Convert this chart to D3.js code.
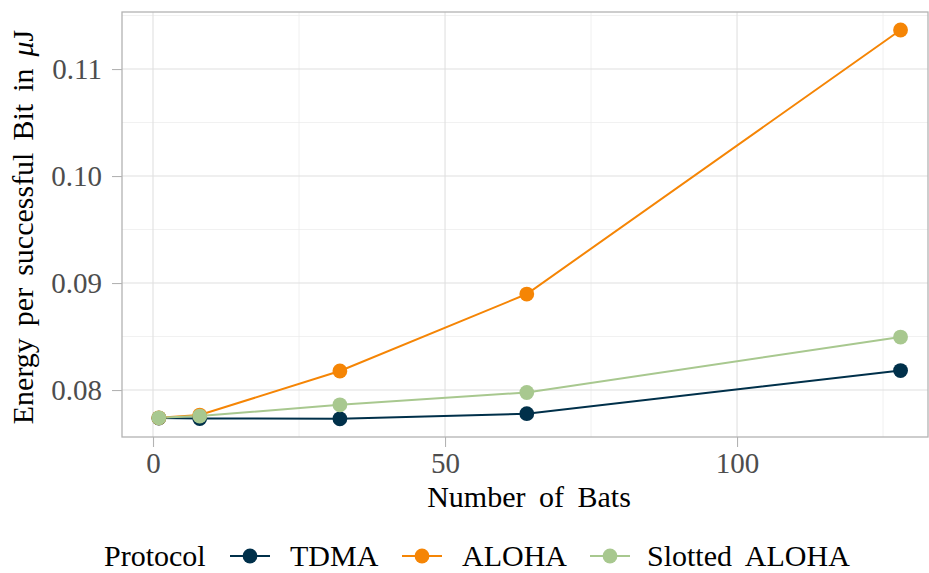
<!DOCTYPE html>
<html><head><meta charset="utf-8">
<script src="https://cdn.jsdelivr.net/npm/d3@7"></script>
<style>body{margin:0;background:#fff}svg{display:block}text{font-family:"Liberation Serif","Times New Roman",serif}</style>
</head><body><svg id="c" width="929" height="573"></svg>
<script>
const bats = [1, 8, 32, 64, 128];
const tdma = [0.07738, 0.07734, 0.07731, 0.07779, 0.08182];
const aloha = [0.07740, 0.07766, 0.08178, 0.08897, 0.11365];
const slotted = [0.07740, 0.07757, 0.07862, 0.07977, 0.08495];
const seriesNames = ["TDMA", "ALOHA", "Slotted ALOHA"];
const xTicks = [0, 50, 100];
const xMinor = [25, 75, 125];
const yTicks = [0.08, 0.09, 0.10, 0.11];
const yMinor = [0.085, 0.095, 0.105, 0.115];
const colors = ["#00304a", "#f58505", "#a8c88f"];

const svg = d3.select("#c");
const L = 122, R = 928, T = 12, B = 437;
const x = d3.scaleLinear().domain([-5.31, 132.7]).range([L, R]);
const y = d3.scaleLinear().domain([0.07561, 0.11533]).range([B, T]);

const g = svg.append("g");
g.selectAll(".ym").data(yMinor).join("line").attr("x1", L).attr("x2", R)
  .attr("y1", d => y(d)).attr("y2", d => y(d)).attr("stroke", "#ececec").attr("stroke-width", 0.8);
g.selectAll(".xm").data(xMinor).join("line").attr("y1", T).attr("y2", B)
  .attr("x1", d => x(d)).attr("x2", d => x(d)).attr("stroke", "#ececec").attr("stroke-width", 0.8);
g.selectAll(".yM").data(yTicks).join("line").attr("x1", L).attr("x2", R)
  .attr("y1", d => y(d)).attr("y2", d => y(d)).attr("stroke", "#e0e0e0").attr("stroke-width", 1.1);
g.selectAll(".xM").data(xTicks).join("line").attr("y1", T).attr("y2", B)
  .attr("x1", d => x(d)).attr("x2", d => x(d)).attr("stroke", "#e0e0e0").attr("stroke-width", 1.1);

const yAxis = svg.append("g").attr("transform", `translate(${L},0)`)
  .call(d3.axisLeft(y).tickValues(yTicks).tickFormat(d3.format(".2f")).tickSize(10).tickPadding(10));
const xAxis = svg.append("g").attr("transform", `translate(0,${B})`)
  .call(d3.axisBottom(x).tickValues(xTicks).tickFormat(d3.format("d")).tickSize(10).tickPadding(5));
[yAxis, xAxis].forEach(a => {
  a.select(".domain").remove();
  a.selectAll("line").attr("stroke", "#b3b3b3").attr("stroke-width", 1.1);
  a.selectAll("text").attr("fill", "#4d4d4d").style("font-size", "29px")
   .style("font-family", '"Liberation Serif",serif');
});

svg.append("rect").attr("x", L).attr("y", T).attr("width", R - L).attr("height", B - T)
  .attr("fill", "none").attr("stroke", "#b3b3b3").attr("stroke-width", 1.3);

const data = [tdma, aloha, slotted];
const line = d3.line().x((d, i) => x(bats[i])).y(d => y(d));
data.forEach((vals, k) => {
  svg.append("path").datum(vals).attr("d", line).attr("fill", "none")
    .attr("stroke", colors[k]).attr("stroke-width", 2);
});
data.forEach((vals, k) => {
  svg.append("g").selectAll("circle").data(vals).join("circle")
    .attr("cx", (d, i) => x(bats[i])).attr("cy", d => y(d)).attr("r", 7.4).attr("fill", colors[k]);
});

svg.append("text").attr("x", 529).attr("y", 507).attr("text-anchor", "middle")
  .style("font-size", "30px").style("word-spacing", "6px").attr("fill", "#000").text("Number of Bats");
const yt = svg.append("text").attr("transform", `translate(33,227) rotate(-90)`)
  .attr("text-anchor", "middle").style("font-size", "30px").style("word-spacing", "4.5px").attr("fill", "#000");
yt.append("tspan").text("Energy per successful Bit in ");
yt.append("tspan").style("font-style", "italic").text("μ");
yt.append("tspan").text("J");

const ly = 556, lb = 566;
svg.append("text").attr("x", 104).attr("y", lb).style("font-size", "30px").text("Protocol");
const keyX = [250, 422, 610];
const textX = [290, 462, 647];
seriesNames.forEach((n, k) => {
  const cx = keyX[k];
  svg.append("line").attr("x1", cx - 20).attr("x2", cx + 20).attr("y1", ly).attr("y2", ly)
    .attr("stroke", colors[k]).attr("stroke-width", 2);
  svg.append("circle").attr("cx", cx).attr("cy", ly).attr("r", 7.4).attr("fill", colors[k]);
  svg.append("text").attr("x", textX[k]).attr("y", lb).style("font-size", "30px")
    .style("word-spacing", "7px").text(n);
});
</script></body></html>
